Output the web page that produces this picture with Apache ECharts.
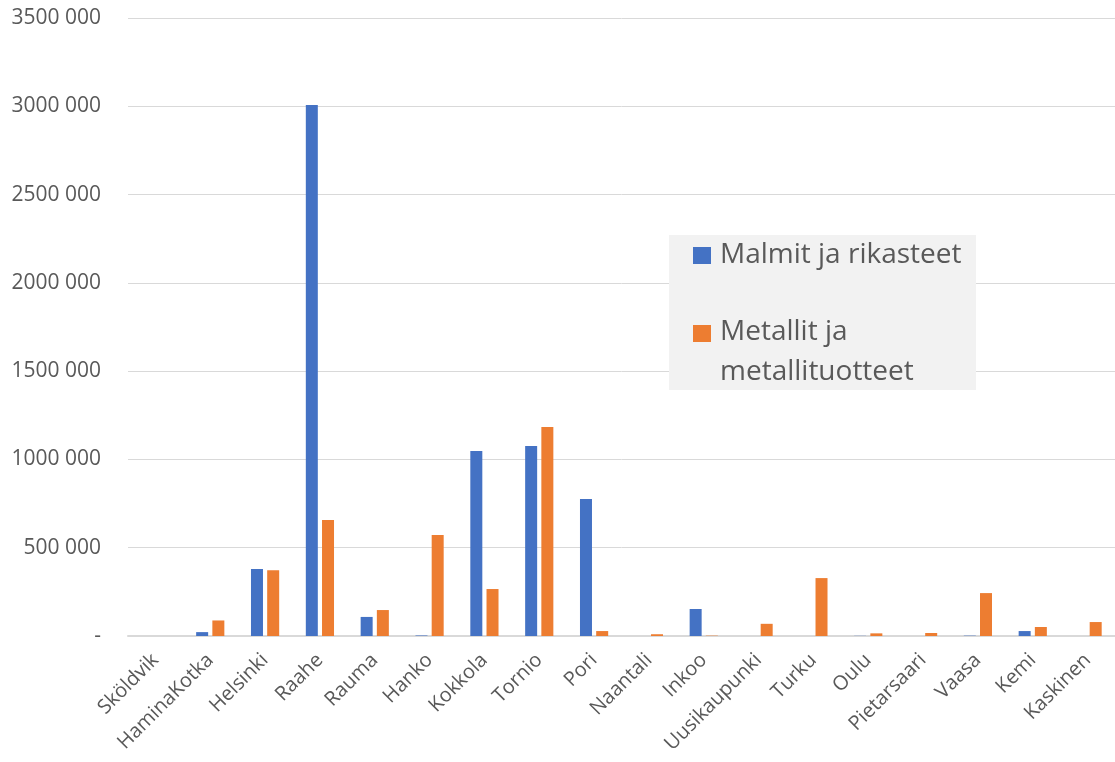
<!DOCTYPE html>
<html>
<head>
<meta charset="utf-8">
<script src="https://cdn.jsdelivr.net/npm/echarts@6/dist/echarts.min.js"></script>
<style>
  html, body { margin: 0; padding: 0; background: #fff; }
  #chart { width: 1115px; height: 762px; }
</style>
</head>
<body>
<div id="chart"></div>
<script>
// Ports and tonnes handled per goods group
const ports = ['Sköldvik', 'HaminaKotka', 'Helsinki', 'Raahe', 'Rauma', 'Hanko', 'Kokkola', 'Tornio', 'Pori',
  'Naantali', 'Inkoo', 'Uusikaupunki', 'Turku', 'Oulu', 'Pietarsaari', 'Vaasa', 'Kemi', 'Kaskinen'];
const malmit = [0, 22000, 380000, 3007000, 108000, 3000, 1048000, 1076000, 776000,
  0, 153000, 0, 0, 1000, 0, 2000, 28000, 0];
const metallit = [0, 88000, 372000, 657000, 147000, 572000, 266000, 1184000, 28000,
  10000, 2000, 69000, 328000, 15000, 17000, 243000, 51000, 79000];
const seriesNames = ['Malmit ja rikasteet', 'Metallit ja metallituotteet'];
const yTicks = [0, 500000, 1000000, 1500000, 2000000, 2500000, 3000000, 3500000];

const FONT = '"Open Sans", sans-serif';
const TEXT = '#595959';
const BLUE = '#4472c4';
const ORANGE = '#ed7d31';

function fmt(v) {
  if (v === 0) return '-';
  const thousands = Math.floor(v / 1000);
  const rest = String(v % 1000).padStart(3, '0');
  return thousands + ' ' + rest;
}

const chart = echarts.init(document.getElementById('chart'));
chart.setOption({
  animation: false,
  grid: { left: 128, right: 0, top: 18, bottom: 126 },
  xAxis: {
    type: 'category',
    data: ports,
    axisTick: { show: false },
    axisLine: { lineStyle: { color: '#d9d9d9', width: 2 } },
    axisLabel: { rotate: 45, fontFamily: FONT, fontSize: 20, color: TEXT, margin: 21, interval: 0 }
  },
  yAxis: {
    type: 'value',
    min: yTicks[0],
    max: yTicks[yTicks.length - 1],
    interval: 500000,
    axisLine: { show: false },
    axisTick: { show: false },
    splitLine: { lineStyle: { color: '#d9d9d9', width: 1 } },
    axisLabel: { fontFamily: FONT, fontSize: 21, color: TEXT, margin: 27, formatter: fmt }
  },
  series: [
    { name: seriesNames[0], type: 'bar', data: malmit, barWidth: 12, barGap: '35%',
      itemStyle: { color: BLUE } },
    { name: seriesNames[1], type: 'bar', data: metallit, barWidth: 12, barGap: '35%',
      itemStyle: { color: ORANGE } }
  ],
  graphic: [
    { type: 'group', left: 669, top: 235, z: 100, children: [
      { type: 'rect', z: 100, shape: { x: 0, y: 0, width: 307, height: 155 }, style: { fill: '#f2f2f2' } },
      { type: 'rect', z: 101, shape: { x: 24, y: 12, width: 18, height: 17 }, style: { fill: BLUE } },
      { type: 'text', z: 101, x: 51, y: 20, style: { text: seriesNames[0], font: '28px ' + FONT, fill: TEXT, verticalAlign: 'middle' } },
      { type: 'rect', z: 101, shape: { x: 24, y: 90, width: 18, height: 17 }, style: { fill: ORANGE } },
      { type: 'text', z: 101, x: 51, y: 77, style: { text: 'Metallit ja\nmetallituotteet', font: '28px ' + FONT, fill: TEXT, lineHeight: 40, verticalAlign: 'top' } }
    ] }
  ]
});
</script>
</body>
</html>
